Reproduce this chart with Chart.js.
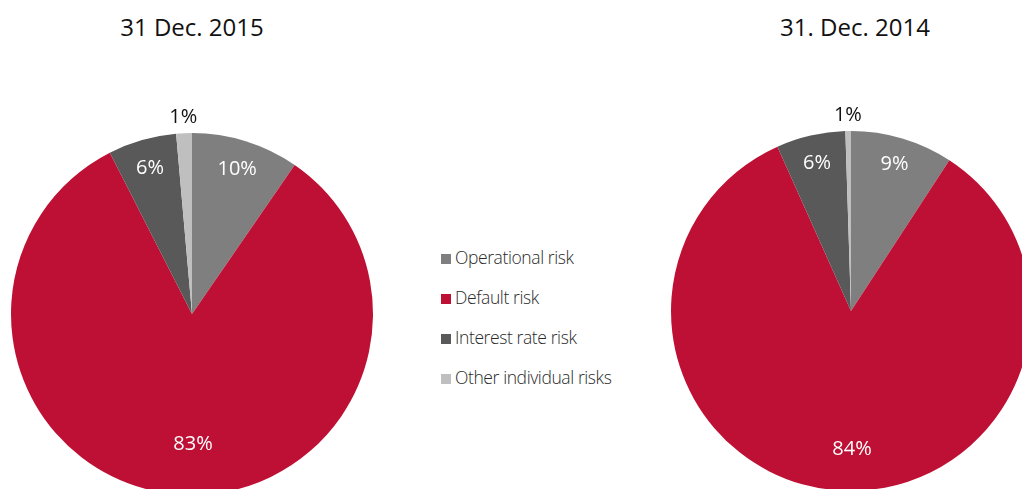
<!DOCTYPE html>
<html>
<head>
<meta charset="utf-8">
<script src="https://cdn.jsdelivr.net/npm/chart.js@4.4.1/dist/chart.umd.min.js"></script>
<style>
    html, body { margin: 0; padding: 0; width: 1022px; height: 489px; overflow: hidden; background: #fff; }
    body { position: relative; font-family: "Open Sans", "Noto Sans", sans-serif; }
    .title { position: absolute; top: 10px; font-size: 24px; color: #111; white-space: nowrap; transform: translateX(-50%); }
    .box { position: absolute; }
    .legend { position: absolute; left: 441px; top: 245px; font-size: 17.5px; color: #2a2a2a; font-weight: 300; letter-spacing: -0.4px; }
    .legend div { height: 40px; line-height: 24px; white-space: nowrap; }
    .legend span { display: inline-block; width: 10px; height: 10px; margin-right: 4px; vertical-align: 0px; }
</style>
</head>
<body>
<div class="title" style="left:192px">31 Dec. 2015</div>
<div class="title" style="left:855px">31. Dec. 2014</div>

<div class="box" style="left:0px; top:90px; width:384px; height:448px"><canvas id="pie2015"></canvas></div>
<div class="box" style="left:651px; top:87px; width:400px; height:448px"><canvas id="pie2014"></canvas></div>

<div class="legend" id="legend"></div>

<script>
const categories = ['Operational risk', 'Default risk', 'Interest rate risk', 'Other individual risks'];
const values2015 = [9.6, 82.9, 6.1, 1.4];
const values2014 = [9.2, 84.1, 6.2, 0.5];
const labels2015 = ['10%', '83%', '6%', '1%'];
const labels2014 = ['9%', '84%', '6%', '1%'];
const colors = ['#7f7f7f', '#be1034', '#595959', '#bfbfbf'];

// label distance from centre as a share of the radius, and text colour
const labelRadius2015 = [0.84, 0.72, 0.84, 1.09];
const labelRadius2014 = [0.85, 0.77, 0.84, 1.09];
const labelColors = ['#fff', '#fff', '#fff', '#111'];

const sliceLabels = {
    id: 'sliceLabels',
    afterDatasetsDraw(chart, args, opts) {
        const ctx = chart.ctx;
        const meta = chart.getDatasetMeta(0);
        ctx.save();
        ctx.font = '20px "Open Sans", "Noto Sans", sans-serif';
        ctx.textAlign = 'center';
        ctx.textBaseline = 'middle';
        meta.data.forEach((arc, i) => {
            const p = arc.getProps(['x', 'y', 'startAngle', 'endAngle', 'outerRadius'], true);
            const mid = (p.startAngle + p.endAngle) / 2;
            const r = p.outerRadius * opts.radius[i];
            // the big slice label sits nearly straight below the centre
            const x = i === 1 ? p.x + 1 : p.x + Math.cos(mid) * r;
            ctx.fillStyle = labelColors[i];
            ctx.fillText(opts.text[i], x, p.y + Math.sin(mid) * r);
        });
        ctx.restore();
    }
};

function makePie(id, values, text, radius, pad) {
    new Chart(document.getElementById(id), {
        type: 'pie',
        data: {
            labels: categories,
            datasets: [{
                data: values,
                backgroundColor: colors,
                borderWidth: 0
            }]
        },
        options: {
            responsive: true,
            maintainAspectRatio: false,
            animation: false,
            layout: { padding: { left: pad, right: pad } },
            plugins: {
                legend: { display: false },
                tooltip: { enabled: false },
                sliceLabels: { text, radius }
            }
        },
        plugins: [sliceLabels]
    });
}

makePie('pie2015', values2015, labels2015, labelRadius2015, 11);
makePie('pie2014', values2014, labels2014, labelRadius2014, 20);

// Legend
const legend = document.getElementById('legend');
categories.forEach((c, i) => {
    const d = document.createElement('div');
    d.innerHTML = `<span style="background:${colors[i]}"></span>${c}`;
    legend.appendChild(d);
});
</script>
</body>
</html>
